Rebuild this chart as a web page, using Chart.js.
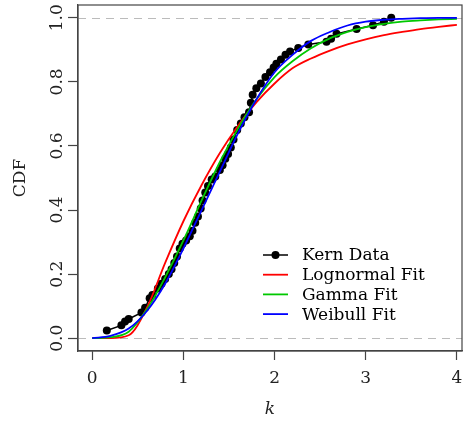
<!DOCTYPE html>
<html>
<head>
<meta charset="utf-8">
<script src="https://cdn.jsdelivr.net/npm/chart.js@4"></script>
<style>
  body { margin: 0; background: #fff; }
  #wrap { width: 466px; height: 423px; }
</style>
</head>
<body>
<div id="wrap"><canvas id="cdf" width="466" height="423"></canvas></div>
<script>
var kernX = [0.16, 0.32, 0.36, 0.40, 0.54, 0.58, 0.63, 0.66, 0.72, 0.76, 0.80, 0.84, 0.87, 0.90,
    0.93, 0.96, 0.99, 1.03, 1.07, 1.10, 1.13, 1.16, 1.19, 1.21, 1.24, 1.27, 1.31, 1.35, 1.40,
    1.43, 1.46, 1.49, 1.52, 1.55, 1.59, 1.63, 1.67, 1.72, 1.74, 1.76, 1.80, 1.85, 1.90, 1.95,
    1.99, 2.02, 2.07, 2.12, 2.17, 2.26, 2.37, 2.57, 2.62, 2.68, 2.90, 3.08, 3.20, 3.28];
var kernY = [0.024, 0.040, 0.052, 0.060, 0.080, 0.095, 0.125, 0.135, 0.155, 0.170, 0.185, 0.200,
    0.215, 0.235, 0.255, 0.280, 0.295, 0.305, 0.318, 0.335, 0.360, 0.380, 0.405, 0.430, 0.455,
    0.475, 0.495, 0.505, 0.525, 0.540, 0.560, 0.575, 0.595, 0.620, 0.650, 0.670, 0.690, 0.705,
    0.735, 0.760, 0.780, 0.795, 0.815, 0.830, 0.845, 0.857, 0.870, 0.885, 0.895, 0.906, 0.917,
    0.925, 0.935, 0.950, 0.965, 0.977, 0.988, 1.000];

// fitted curves, sampled every 0.2
var fitX = [0, 0.2, 0.4, 0.6, 0.8, 1.0, 1.2, 1.4, 1.6, 1.8, 2.0, 2.2, 2.4, 2.6, 2.8, 3.0, 3.2, 3.4, 3.6, 3.8, 4.0];
var lognormalY = [0, 0, 0.009, 0.095, 0.235, 0.365, 0.478, 0.578, 0.663, 0.736, 0.795, 0.843, 0.873, 0.897,
    0.917, 0.933, 0.946, 0.956, 0.965, 0.972, 0.978];
var gammaY = [0, 0.003, 0.02, 0.09, 0.19, 0.305, 0.43, 0.55, 0.655, 0.745, 0.815, 0.865, 0.905, 0.935,
    0.956, 0.971, 0.981, 0.988, 0.992, 0.995, 0.997];
var weibullY = [0, 0.007, 0.03, 0.085, 0.17, 0.28, 0.40, 0.52, 0.64, 0.745, 0.83, 0.885, 0.928, 0.955,
    0.976, 0.988, 0.994, 0.997, 0.999, 1.0, 1.0];

var xTicks = [0, 1, 2, 3, 4];
var yTicks = [0, 0.2, 0.4, 0.6, 0.8, 1.0];
var refLines = [0, 1];

var seriesNames = ['Kern Data', 'Lognormal Fit', 'Gamma Fit', 'Weibull Fit'];
var seriesColors = ['#000000', '#ff0000', '#00c800', '#0000ff'];

var serif = '"DejaVu Serif", "Liberation Serif", serif';
var fontSize = 17;
var axisColor = '#444';

function pairs(xs, ys) {
    var out = [];
    for (var i = 0; i < xs.length; i++) {
        out.push({x: xs[i], y: ys[i]});
    }
    return out;
}

function fitDataset(idx, ys, order) {
    return {
        label: seriesNames[idx],
        data: pairs(fitX, ys),
        borderColor: seriesColors[idx],
        borderWidth: 1.8,
        pointRadius: 0,
        fill: false,
        cubicInterpolationMode: 'monotone',
        order: order
    };
}

// keep the tick labels from pushing the plot box around
function noLabelPadding(scale) {
    scale.paddingTop = 0;
    scale.paddingBottom = 0;
    scale.paddingLeft = 0;
    scale.paddingRight = 0;
}

// box, dashed reference lines and the legend
var decorations = {
    id: 'decorations',
    beforeDatasetsDraw: function(chart) {
        var ctx = chart.ctx, area = chart.chartArea, y = chart.scales.y;
        ctx.save();
        ctx.strokeStyle = '#bbbbbb';
        ctx.lineWidth = 1;
        ctx.setLineDash([8, 6]);
        refLines.forEach(function(v) {
            var py = Math.round(y.getPixelForValue(v)) + 0.5;
            ctx.beginPath();
            ctx.moveTo(area.left, py);
            ctx.lineTo(area.right, py);
            ctx.stroke();
        });
        ctx.restore();
    },
    afterDraw: function(chart) {
        var ctx = chart.ctx, area = chart.chartArea;
        ctx.save();
        ctx.strokeStyle = axisColor;
        ctx.lineWidth = 1.2;
        ctx.strokeRect(area.left, area.top, area.right - area.left, area.bottom - area.top);

        var lx = 263, tx = 302, top = 255, step = 19.7;
        ctx.font = fontSize + 'px ' + serif;
        ctx.textBaseline = 'middle';
        ctx.textAlign = 'left';
        for (var i = 0; i < seriesNames.length; i++) {
            var ly = top + i * step;
            ctx.strokeStyle = seriesColors[i];
            ctx.lineWidth = i === 0 ? 1.5 : 1.8;
            ctx.beginPath();
            ctx.moveTo(lx, ly);
            ctx.lineTo(lx + 25, ly);
            ctx.stroke();
            if (i === 0) {
                ctx.fillStyle = '#000';
                ctx.beginPath();
                ctx.arc(lx + 12.5, ly, 4, 0, Math.PI * 2);
                ctx.fill();
            }
            ctx.fillStyle = '#000';
            ctx.fillText(seriesNames[i], tx, ly + 1);
        }
        ctx.restore();
    }
};

new Chart(document.getElementById('cdf'), {
    type: 'line',
    data: {
        datasets: [
            {
                label: seriesNames[0],
                data: pairs(kernX, kernY),
                borderColor: '#000',
                backgroundColor: '#000',
                borderWidth: 1.5,
                pointRadius: 4,
                pointBorderWidth: 0,
                tension: 0,
                order: 4
            },
            fitDataset(1, lognormalY, 3),
            fitDataset(2, gammaY, 2),
            fitDataset(3, weibullY, 1)
        ]
    },
    options: {
        responsive: false,
        animation: false,
        layout: {padding: {top: 5, right: 2, left: 0, bottom: 0}},
        plugins: {legend: {display: false}, tooltip: {enabled: false}},
        scales: {
            x: {
                type: 'linear',
                min: -0.156,
                max: 4.056,
                afterFit: function(scale) { scale.height = 72; noLabelPadding(scale); },
                afterBuildTicks: function(scale) {
                    scale.ticks = xTicks.map(function(v) { return {value: v}; });
                },
                grid: {drawOnChartArea: false, tickLength: 9, color: axisColor, tickWidth: 1.2},
                border: {display: true, color: axisColor, width: 1.2},
                ticks: {
                    color: '#222',
                    padding: 8,
                    maxRotation: 0,
                    font: {family: serif, size: fontSize},
                    callback: function(v) { return String(v); }
                },
                title: {
                    display: true,
                    text: 'k',
                    color: '#222',
                    font: {family: serif, size: fontSize, style: 'italic'},
                    padding: {top: 0, bottom: 3}
                }
            },
            y: {
                type: 'linear',
                min: -0.04,
                max: 1.04,
                afterFit: function(scale) { scale.width = 78; noLabelPadding(scale); },
                afterBuildTicks: function(scale) {
                    scale.ticks = yTicks.map(function(v) { return {value: v}; });
                },
                grid: {drawOnChartArea: false, tickLength: 10, color: axisColor, tickWidth: 1.2},
                border: {display: true, color: axisColor, width: 1.2},
                ticks: {
                    color: '#222',
                    padding: -3,
                    minRotation: 90,
                    maxRotation: 90,
                    crossAlign: 'center',
                    font: {family: serif, size: fontSize},
                    callback: function(v) { return v.toFixed(1); }
                },
                title: {
                    display: true,
                    text: 'CDF',
                    color: '#222',
                    font: {family: serif, size: fontSize},
                    padding: {top: 10, bottom: 0}
                }
            }
        }
    },
    plugins: [decorations]
});
</script>
</body>
</html>
